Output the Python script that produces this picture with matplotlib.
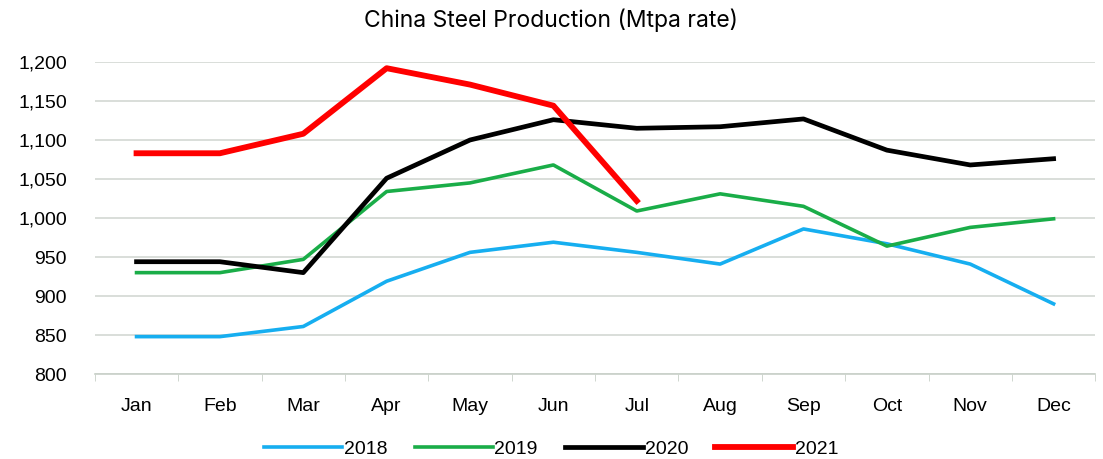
import matplotlib.pyplot as plt
import numpy as np

months = ['Jan', 'Feb', 'Mar', 'Apr', 'May', 'Jun', 'Jul', 'Aug', 'Sep', 'Oct', 'Nov', 'Dec']
y2018 = [848, 848, 861, 919, 956, 969, 956, 941, 986, 967, 941, 890]
y2019 = [930, 930, 947, 1034, 1045, 1068, 1009, 1031, 1015, 964, 988, 999]
y2020 = [944, 944, 930, 1051, 1100, 1126, 1115, 1117, 1127, 1087, 1068, 1076]
y2021 = [1083, 1083, 1108, 1192, 1171, 1144, 1022]

fig = plt.figure(figsize=(11.03, 4.59), dpi=100)
ax = fig.add_axes([0.086, 0.185, 0.907, 0.68])

x = np.arange(len(months))
ax.plot(x, y2018, color='#16aef0', lw=2.6, label='2018')
ax.plot(x, y2019, color='#1aad48', lw=2.6, label='2019')
ax.plot(x, y2020, color='black', lw=3.4, label='2020')
ax.plot(x[:len(y2021)], y2021, color='#ff0000', lw=4.2, label='2021')

ax.set_xlim(-0.5, 11.5)
ax.set_ylim(800, 1200)
ax.set_yticks(range(800, 1201, 50))
ax.set_yticklabels(['{:,}'.format(v) for v in range(800, 1201, 50)],
                   family='Liberation Sans', fontsize=14)
ax.set_xticks(x)
ax.set_xticklabels(months, family='Liberation Sans', fontsize=14)
ax.set_xticks(np.arange(-0.5, 12, 1), minor=True)
ax.tick_params(axis='x', which='major', length=0, pad=17)
ax.tick_params(axis='x', which='minor', length=5, color='#c8d0c8')
ax.tick_params(axis='y', length=0, pad=20)

ax.grid(axis='y', color='#d3d8d3', lw=1.2)
ax.set_axisbelow(True)
for s in ['top', 'right', 'left']:
    ax.spines[s].set_visible(False)
ax.spines['bottom'].set_color('#c8d0c8')
ax.spines['bottom'].set_linewidth(1.2)

fig.text(0.5, 0.955, 'China Steel Production (Mtpa rate)', ha='center', va='center',
         family='Inter', fontsize=16.5)

fig.legend(loc='center', bbox_to_anchor=(0.5, 0.022), ncol=4, frameon=False,
           prop={'family': 'Liberation Sans', 'size': 14}, handlelength=4.0,
           handletextpad=0.1, columnspacing=1.4)

fig.savefig('out.png', dpi=100)
